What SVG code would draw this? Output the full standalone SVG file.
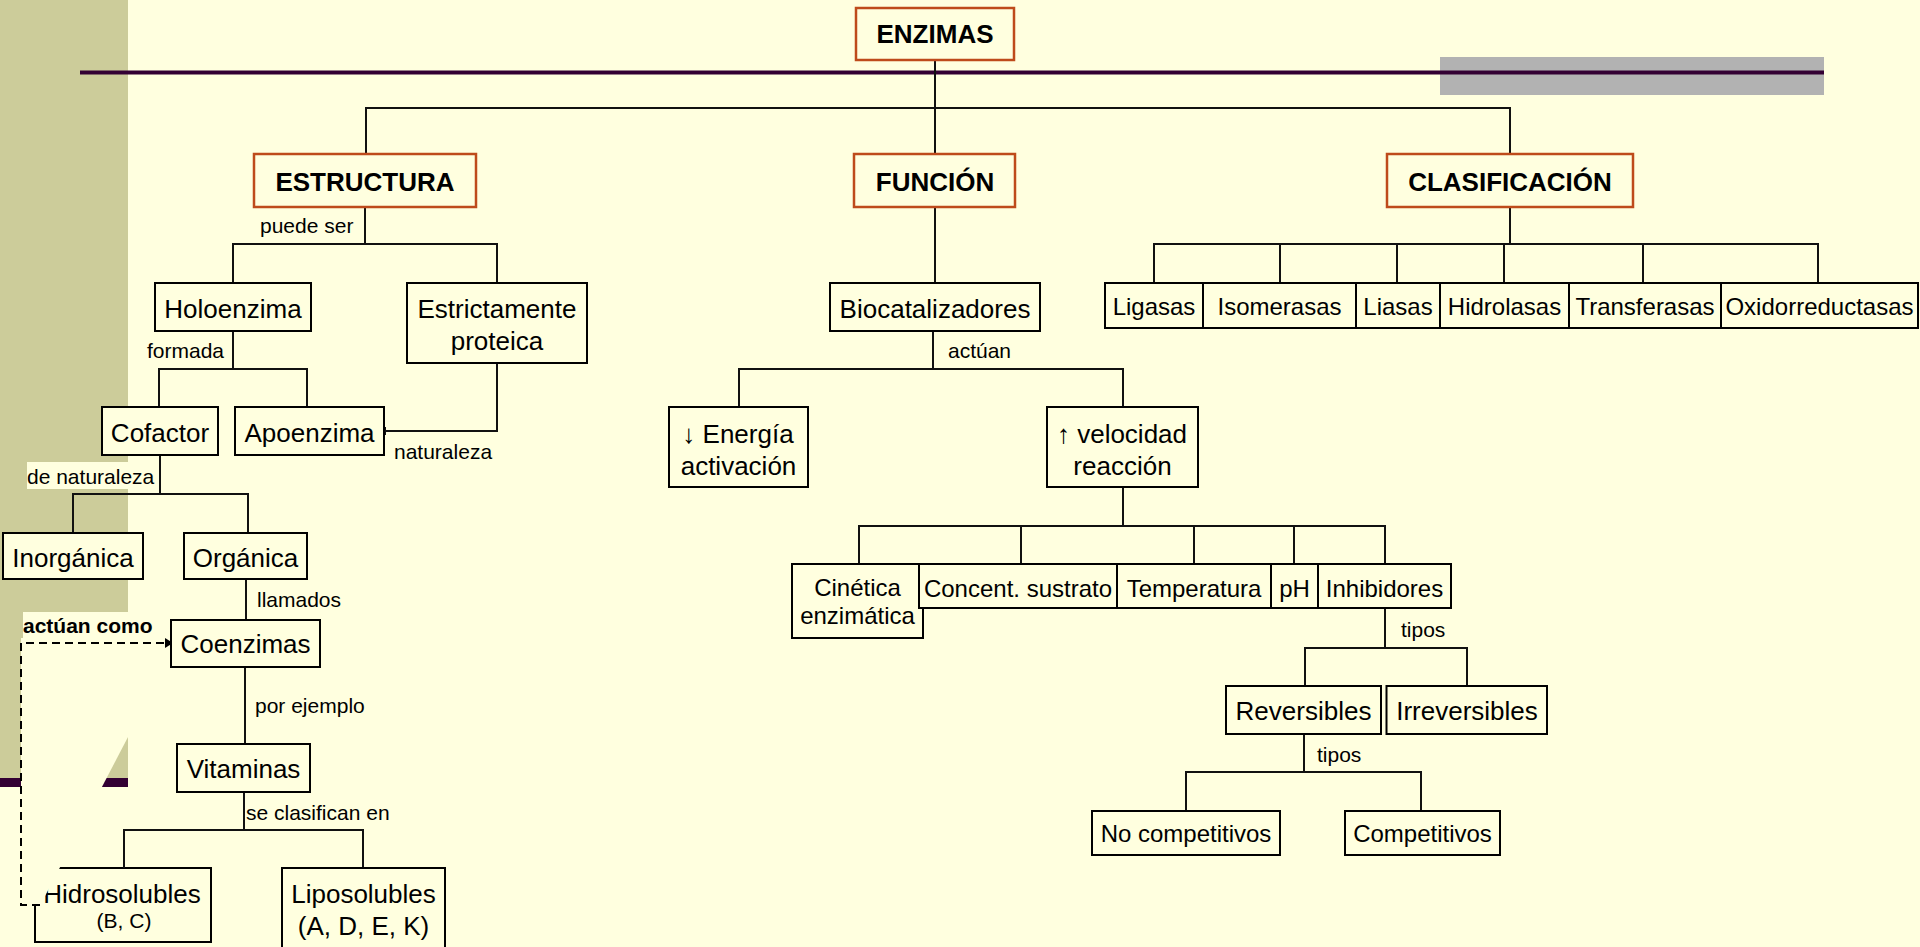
<svg xmlns="http://www.w3.org/2000/svg" width="1920" height="947" viewBox="0 0 1920 947">
<defs>
<style>
.bg{fill:#FFFFDF}
.box{fill:#FFFFDF;stroke:#000;stroke-width:2}
.main{fill:#FFFFDF;stroke:#BE4B1B;stroke-width:2.5}
text{font-family:"Liberation Sans",Arial,sans-serif;fill:#000}
.t{font-size:26px;text-anchor:middle}
.s{font-size:24px;text-anchor:middle}
.b{font-weight:bold}
.lbl{font-size:21px}
.c{stroke:#111;stroke-width:2;fill:none}
.dash{stroke:#000;stroke-width:2;fill:none;stroke-dasharray:8 5}
</style>
</defs>
<!-- slide background -->
<rect x="0" y="0" width="1920" height="947" fill="#FFFFDF"/>
<rect x="0" y="0" width="128" height="778" fill="#CCCC9A"/>
<rect x="0" y="778" width="128" height="9" fill="#330033"/>
<rect x="1440" y="57" width="384" height="38" fill="#B2B2B2"/>
<rect x="80" y="70.5" width="1744" height="4" fill="#330033"/>

<g id="n-hidrosolubles">
<rect class="box" x="35" y="868" width="176" height="74"/>
<text class="t" x="122" y="903">Hidrosolubles</text>
<text class="lbl" x="124" y="928" text-anchor="middle">(B, C)</text>
</g>

<polygon class="bg" points="21,638 128,638 128,737 44,898 39,905 21,905"/>
<rect class="bg" x="27" y="462" width="131" height="27"/>
<rect class="bg" x="23" y="612" width="133" height="28"/>

<g id="connectors">
<path class="c" d="M935 60V154"/>
<path class="c" d="M366 154V108H1510V154"/>
<path class="c" d="M365 207V244"/>
<path class="c" d="M233 283V244H497V283"/>
<path class="c" d="M233 331V369"/>
<path class="c" d="M159 407V369H307V407"/>
<path class="c" d="M497 363V431H385"/>
<path class="c" d="M385 427V435" stroke-width="1.5"/>
<path class="c" d="M160 455V494"/>
<path class="c" d="M73 533V494H248V533"/>
<path class="c" d="M246 579V620"/>
<path class="c" d="M245 667V744"/>
<path class="c" d="M244 792V830"/>
<path class="c" d="M124 868V830H363V868"/>
<path class="c" d="M935 207V283"/>
<path class="c" d="M933 331V369"/>
<path class="c" d="M739 407V369H1123V407"/>
<path class="c" d="M1123 487V526"/>
<path class="c" d="M859 564V526H1385V564"/>
<path class="c" d="M1021 526V564M1194 526V564M1294 526V564"/>
<path class="c" d="M1385 608V648"/>
<path class="c" d="M1305 686V648H1467V686"/>
<path class="c" d="M1304 734V772"/>
<path class="c" d="M1186 811V772H1421V811"/>
<path class="c" d="M1510 207V244"/>
<path class="c" d="M1154 283V244H1818V283"/>
<path class="c" d="M1280 244V283M1397 244V283M1504 244V283M1643 244V283"/>
<path class="dash" d="M40 905H21V643H165"/>
<polygon points="165,638 173,643 165,648" fill="#000"/>
<text class="lbl" x="260" y="233">puede ser</text>
<text class="lbl" x="147" y="358">formada</text>
<text class="lbl" x="394" y="459">naturaleza</text>
<text class="lbl" x="27" y="484">de naturaleza</text>
<text class="lbl" x="257" y="607">llamados</text>
<text class="lbl b" x="23" y="633">actúan como</text>
<text class="lbl" x="255" y="713">por ejemplo</text>
<text class="lbl" x="246" y="820">se clasifican en</text>
<text class="lbl" x="948" y="358">actúan</text>
<text class="lbl" x="1401" y="637">tipos</text>
<text class="lbl" x="1317" y="762">tipos</text>
</g>

<g id="n-enzimas"><rect class="main" x="856" y="8" width="158" height="52"/><text class="t b" x="935" y="43">ENZIMAS</text></g>
<g id="n-estructura"><rect class="main" x="254" y="154" width="222" height="53"/><text class="t b" x="365" y="191">ESTRUCTURA</text></g>
<g id="n-funcion"><rect class="main" x="854" y="154" width="161" height="53"/><text class="t b" x="935" y="191">FUNCIÓN</text></g>
<g id="n-clasificacion"><rect class="main" x="1387" y="154" width="246" height="53"/><text class="t b" x="1510" y="191">CLASIFICACIÓN</text></g>

<g id="n-holoenzima"><rect class="box" x="155" y="283" width="156" height="48"/><text class="t" x="233" y="318">Holoenzima</text></g>
<g id="n-estrictamente"><rect class="box" x="407" y="283" width="180" height="80"/><text class="t" x="497" y="318">Estrictamente</text><text class="t" x="497" y="350">proteica</text></g>
<g id="n-cofactor"><rect class="box" x="102" y="407" width="116" height="48"/><text class="t" x="160" y="442">Cofactor</text></g>
<g id="n-apoenzima"><rect class="box" x="235" y="407" width="149" height="48"/><text class="t" x="309.5" y="442">Apoenzima</text></g>
<g id="n-inorganica"><rect class="box" x="3" y="533" width="140" height="46"/><text class="t" x="73" y="567">Inorgánica</text></g>
<g id="n-organica"><rect class="box" x="184" y="533" width="123" height="46"/><text class="t" x="245.5" y="567">Orgánica</text></g>
<g id="n-coenzimas"><rect class="box" x="171" y="620" width="149" height="47"/><text class="t" x="245.5" y="653">Coenzimas</text></g>
<g id="n-vitaminas"><rect class="box" x="177" y="744" width="133" height="48"/><text class="t" x="243.5" y="778">Vitaminas</text></g>
<g id="n-liposolubles"><rect class="box" x="282" y="868" width="163" height="92"/><text class="t" x="363.5" y="903">Liposolubles</text><text class="t" x="363.5" y="935">(A, D, E, K)</text></g>

<g id="n-biocatalizadores"><rect class="box" x="830" y="283" width="210" height="48"/><text class="t" x="935" y="318">Biocatalizadores</text></g>
<g id="n-energia"><rect class="box" x="669" y="407" width="139" height="80"/><text class="t" x="738" y="443">↓ Energía</text><text class="t" x="738.5" y="475">activación</text></g>
<g id="n-velocidad"><rect class="box" x="1047" y="407" width="151" height="80"/><text class="t" x="1122" y="443">↑ velocidad</text><text class="t" x="1122.5" y="475">reacción</text></g>
<g id="n-cinetica"><rect class="box" x="792" y="564" width="131" height="74"/><text class="s" x="857.5" y="596">Cinética</text><text class="s" x="857.5" y="624">enzimática</text></g>
<g id="n-concent"><rect class="box" x="919" y="564" width="198" height="44"/><text class="s" x="1018" y="597">Concent. sustrato</text></g>
<g id="n-temperatura"><rect class="box" x="1117" y="564" width="154" height="44"/><text class="s" x="1194" y="597">Temperatura</text></g>
<g id="n-ph"><rect class="box" x="1271" y="564" width="47" height="44"/><text class="s" x="1294.5" y="597">pH</text></g>
<g id="n-inhibidores"><rect class="box" x="1318" y="564" width="133" height="44"/><text class="s" x="1384.5" y="597">Inhibidores</text></g>
<g id="n-reversibles"><rect class="box" x="1226" y="686" width="155" height="48"/><text class="t" x="1303.5" y="720">Reversibles</text></g>
<g id="n-irreversibles"><rect class="box" x="1386.5" y="686" width="160.5" height="48"/><text class="t" x="1467" y="720">Irreversibles</text></g>
<g id="n-nocompetitivos"><rect class="box" x="1092" y="811" width="188" height="44"/><text class="s" x="1186" y="842">No competitivos</text></g>
<g id="n-competitivos"><rect class="box" x="1345" y="811" width="155" height="44"/><text class="s" x="1422.5" y="842">Competitivos</text></g>

<g id="n-ligasas"><rect class="box" x="1105" y="283" width="98" height="45"/><text class="s" x="1154" y="315">Ligasas</text></g>
<g id="n-isomerasas"><rect class="box" x="1203" y="283" width="153" height="45"/><text class="s" x="1279.5" y="315">Isomerasas</text></g>
<g id="n-liasas"><rect class="box" x="1356" y="283" width="84" height="45"/><text class="s" x="1398" y="315">Liasas</text></g>
<g id="n-hidrolasas"><rect class="box" x="1440" y="283" width="129" height="45"/><text class="s" x="1504.5" y="315">Hidrolasas</text></g>
<g id="n-transferasas"><rect class="box" x="1569" y="283" width="152" height="45"/><text class="s" x="1645" y="315">Transferasas</text></g>
<g id="n-oxidorreductasas"><rect class="box" x="1721" y="283" width="197" height="45"/><text class="s" x="1819.5" y="315">Oxidorreductasas</text></g>
</svg>
